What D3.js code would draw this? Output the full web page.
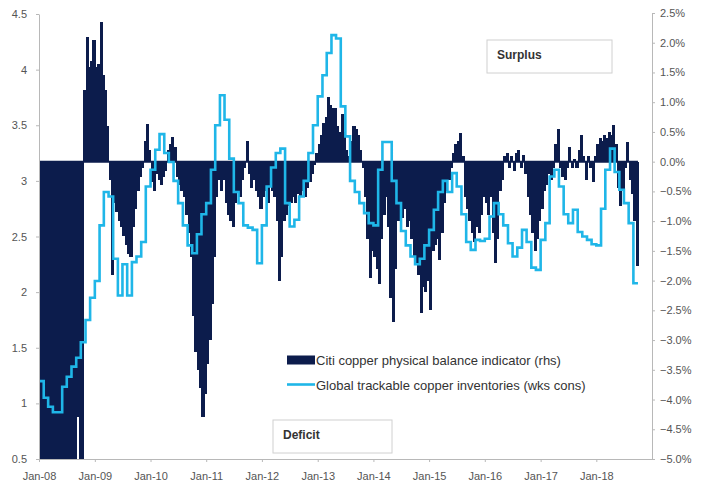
<!DOCTYPE html>
<html>
<head>
<meta charset="utf-8">
<script src="https://cdn.jsdelivr.net/npm/d3@7"></script>
<style>
  body { margin: 0; background: #fff; }
  svg { display: block; font-family: 'Liberation Sans', Arial, sans-serif; }
  .axis path, .axis line { stroke: #b8b8b8; }
  .axis text { fill: #555; font-size: 11px; }
</style>
</head>
<body>
<svg></svg>
<script>
// chart data

// Citi copper physical balance indicator (%), two readings per month, Jan-08 .. Sep-18
var balance = [
  -5.5, -5.5, -5.5, -5.5, -5.5, -5.5, -5.5, -5.5, -5.5, -5.5, -5.5, -5.5, -5.5, -5.5, -5.5, -5.5, -4.3, -5.5, -5.5, 1.2, 2.1, 1.6, 1.7, 2.05,
  1.6, 1.65, 2.35, 1.45, 1.2, 0.6, -0.3, -1.9, -0.7, -0.85, -1.0, -1.1, -1.25, -1.4, -1.55, -1.6, -1.1, -0.8, -0.5, -0.25, -0.1, 0.35, 0.64, 0.2,
  -0.35, -0.5, -0.2, -0.3, -0.4, -0.25, -0.15, 0.2, 0.3, 0.42, 0.25, -0.25, -0.4, -0.5, -0.6, -0.9, -1.2, -1.6, -2.6, -3.2, -3.5, -3.8, -4.3, -3.9,
  -3.4, -3.0, -2.4, -1.6, -0.6, -0.3, -0.5, -0.3, -0.7, -0.9, -1.0, -1.1, -0.7, -0.5, -0.6, -0.3, -0.1, 0.35, -0.2, -0.45, -0.3, -0.5, -0.6, -0.8,
  -0.6, -0.5, -0.7, -0.4, -0.5, -0.6, -1.0, -2.0, -1.6, -1.0, -0.9, -0.75, -0.7, -0.6, -0.7, -0.55, -0.6, -0.5, -0.6, -0.45, -0.35, -0.2, -0.05, 0.15,
  0.3, 0.45, 0.65, 0.75, 1.09, 0.95, 0.9, 0.9, 0.6, 0.5, 0.8, 0.5, 0.2, 0.1, 0.35, 0.6, 0.55, 0.45, 0.2, -0.1, -0.6, -1.3, -1.95, -1.5,
  -1.6, -1.8, -2.05, -1.3, -0.9, -0.6, -1.1, -2.3, -2.7, -1.8, -1.0, -0.9, -0.95, -0.8, -1.1, -1.0, -1.3, -1.6, -1.7, -1.9, -2.54, -2.1, -2.2, -2.0,
  -2.49, -1.5, -1.4, -1.3, -1.65, -1.2, -0.7, -0.5, -0.3, -0.1, 0.15, 0.3, 0.35, 0.48, 0.1, -0.6, -0.8, -1.0, -1.2, -1.35, -1.1, -1.2, -0.9, -0.6,
  -0.7, -0.9, -0.6, -1.2, -1.7, -1.3, -0.5, -0.3, 0.1, 0.15, -0.1, 0.1, -0.15, 0.15, 0.2, -0.1, 0.12, -0.2, -0.6, -0.9, -1.2, -1.5, -1.3, -1.0,
  -0.8, -0.5, -0.4, -0.2, -0.3, -0.1, 0.3, 0.55, -0.1, -0.25, -0.3, -0.1, 0.25, -0.1, 0.05, -0.1, 0.2, 0.45, 0.1, -0.3, 0.1, -0.1, -0.35, 0.1,
  0.3, 0.4, 0.35, 0.45, 0.4, 0.5, 0.45, 0.62, 0.3, -0.45, -0.75, -0.5, -0.1, 0.33, -0.3, -0.55, -1.0, -1.75
]

// Global trackable copper inventories (weeks of consumption), monthly, Jan-08 .. Sep-18
var inventories = [
  1.2, 1.05, 0.97, 0.92, 0.92, 1.15, 1.24, 1.33, 1.41, 1.55, 1.75, 1.95,
  2.1, 2.6, 2.9, 2.86, 2.3, 1.97, 2.25, 1.97, 2.27, 2.32, 2.45, 2.95,
  3.1, 3.28, 3.42, 3.25, 3.17, 3.0, 2.8, 2.6, 2.42, 2.35, 2.52, 2.7,
  2.8, 3.1, 3.5, 3.77, 3.55, 3.2, 2.9, 2.8, 2.6, 2.58, 2.56, 2.26,
  2.6, 2.95, 3.12, 3.25, 3.29, 2.8, 2.59, 2.65, 2.86, 3.0, 3.25, 3.5,
  3.76, 3.95, 4.15, 4.31, 4.28, 3.67, 3.4, 3.0, 2.9, 2.8, 2.71, 2.62,
  2.6, 3.1, 3.35, 3.35, 3.0, 2.8, 2.55, 2.42, 2.32, 2.25, 2.3, 2.42,
  2.56, 2.74, 2.9, 3.0, 2.9, 3.07, 2.95, 2.7, 2.45, 2.38, 2.47, 2.46,
  2.48, 2.68, 2.8, 2.7, 2.6, 2.44, 2.32, 2.4, 2.56, 2.45, 2.22, 2.2,
  2.47, 2.62, 3.04, 3.1, 2.95, 2.7, 2.62, 2.74, 2.54, 2.5, 2.47, 2.43,
  2.42, 2.75, 3.1, 3.29, 3.08, 2.92, 2.8, 2.62, 2.08
]

var leftTicks = [0.5, 1, 1.5, 2, 2.5, 3, 3.5, 4, 4.5]
var rightTicks = [-5, -4.5, -4, -3.5, -3, -2.5, -2, -1.5, -1, -0.5, 0, 0.5, 1, 1.5, 2, 2.5]
var yearTicks = [2008, 2009, 2010, 2011, 2012, 2013, 2014, 2015, 2016, 2017, 2018]

var legendLabels = ['Citi copper physical balance indicator (rhs)', 'Global trackable copper inventories (wks cons)']
var boxLabels = ['Surplus', 'Deficit']

var navy = '#0c1c4c'
var cyan = '#1fb6e8'

// -----------------

var w = 701
var h = 483

var svg = d3.select('svg')
    .attr('width', w)
    .attr('height', h)

var plotLeft = 39
var plotRight = 652
var plotTop = 14
var plotBottom = 459

var x = d3.scaleTime()
    .domain([new Date(2008, 0, 1), new Date(2019, 0, 1)])
    .range([plotLeft, plotRight])

var yL = d3.scaleLinear()
    .domain([0.5, 4.5])
    .range([plotBottom, plotTop])

var yR = d3.scaleLinear()
    .domain([-5, 2.5])
    .range([plotBottom, 13])

svg.append('clipPath').attr('id', 'plot')
  .append('rect')
    .attr('x', plotLeft)
    .attr('y', 0)
    .attr('width', plotRight - plotLeft)
    .attr('height', plotBottom)

// bars
function halfDate (i) {
  return new Date(2008, Math.floor(i / 2), i % 2 ? 16 : 1)
}

svg.append('g')
    .attr('clip-path', 'url(#plot)')
    .attr('shape-rendering', 'crispEdges')
  .selectAll('rect')
  .data(balance)
  .enter()
  .append('rect')
    .attr('x', function (d, i) { return x(halfDate(i)) })
    .attr('width', function (d, i) { return x(halfDate(i + 1)) - x(halfDate(i)) + 0.8 })
    .attr('y', function (d) { return yR(Math.max(0, d)) })
    .attr('height', function (d) { return Math.abs(yR(d) - yR(0)) })
    .attr('fill', navy)

// zero line under the bars
svg.append('line')
    .attr('x1', x(halfDate(0)))
    .attr('x2', x(halfDate(balance.length)))
    .attr('y1', yR(0))
    .attr('y2', yR(0))
    .attr('stroke', navy)
    .attr('stroke-width', 2)

// inventories step line
var invPoints = inventories.map(function (v, i) {
  return [new Date(2008, i, 1), v]
})
invPoints.push([new Date(2008, inventories.length, 1), inventories[inventories.length - 1]])

var line = d3.line()
    .x(function (d) { return x(d[0]) })
    .y(function (d) { return yL(d[1]) })
    .curve(d3.curveStepAfter)

svg.append('path')
    .datum(invPoints)
    .attr('d', line)
    .attr('fill', 'none')
    .attr('stroke', cyan)
    .attr('stroke-width', 2.6)
    .attr('stroke-linejoin', 'miter')

// axes
svg.append('g')
    .attr('class', 'axis')
    .attr('transform', 'translate(' + plotLeft + ',0)')
    .call(d3.axisLeft(yL).tickValues(leftTicks).tickSize(3).tickSizeOuter(0).tickPadding(9).tickFormat(d3.format('')))

svg.append('g')
    .attr('class', 'axis')
    .attr('transform', 'translate(' + plotRight + ',0)')
    .call(d3.axisRight(yR).tickValues(rightTicks).tickSize(3).tickSizeOuter(0).tickPadding(5)
      .tickFormat(function (d) { return d3.format('.1f')(d) + '%' }))

svg.append('g')
    .attr('class', 'axis')
    .attr('transform', 'translate(0,' + plotBottom + ')')
    .call(d3.axisBottom(x)
      .tickValues(yearTicks.map(function (y) { return new Date(y, 0, 1) }))
      .tickSize(3).tickSizeOuter(0).tickPadding(10)
      .tickFormat(d3.timeFormat('Jan-%y')))

// legend
var lg = svg.append('g')

lg.append('rect')
    .attr('x', 287)
    .attr('y', 355.5)
    .attr('width', 28)
    .attr('height', 9)
    .attr('fill', navy)

lg.append('line')
    .attr('x1', 287)
    .attr('x2', 315)
    .attr('y1', 384.5)
    .attr('y2', 384.5)
    .attr('stroke', cyan)
    .attr('stroke-width', 2.6)

lg.selectAll('text')
  .data(legendLabels)
  .enter()
  .append('text')
    .attr('x', 316)
    .attr('y', function (d, i) { return 364.5 + i * 25 })
    .style('font-size', '13px')
    .style('fill', '#333')
    .text(function (d) { return d })

// surplus / deficit boxes
var boxes = [
  { x: 487, y: 40, w: 125, h: 33 },
  { x: 273, y: 420, w: 119, h: 33 }
]

boxes.forEach(function (b, i) {
  svg.append('rect')
      .attr('x', b.x)
      .attr('y', b.y)
      .attr('width', b.w)
      .attr('height', b.h)
      .attr('fill', '#fff')
      .attr('stroke', '#d0d0d0')
  svg.append('text')
      .attr('x', b.x + 10)
      .attr('y', b.y + 19)
      .style('font-size', '12px')
      .style('font-weight', 'bold')
      .style('fill', '#333')
      .text(boxLabels[i])
})
</script>
</body>
</html>
